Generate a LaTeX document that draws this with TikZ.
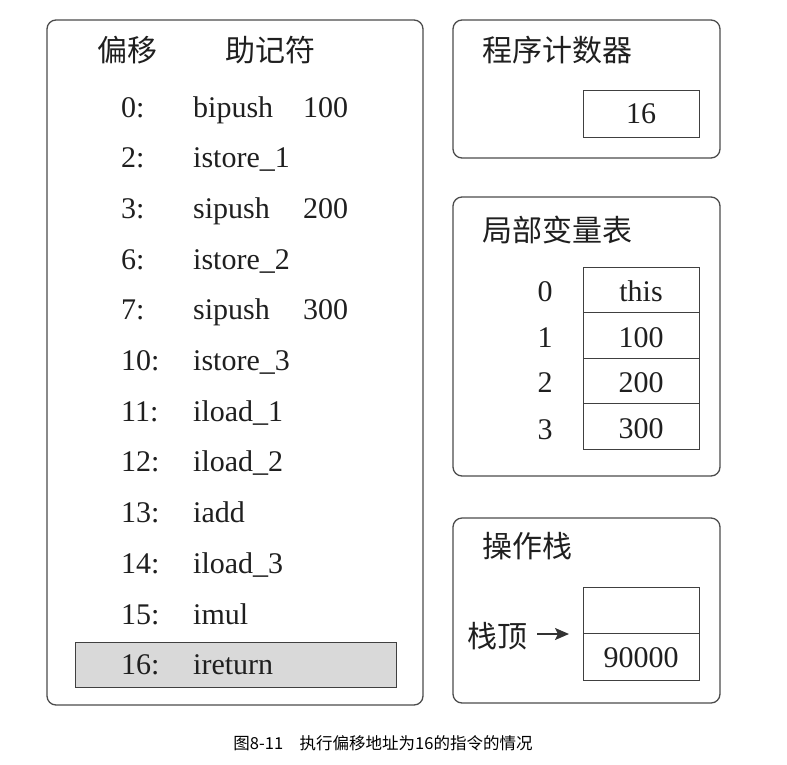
\documentclass[tikz,border=0pt]{standalone}
\usepackage{fontspec}
\setmainfont{Liberation Serif}
\newfontfamily\cjk{Noto Sans CJK SC}
\usetikzlibrary{arrows.meta}
\begin{document}
\begin{tikzpicture}[x=1pt,y=-1pt,
  panel/.style={draw=black!70, line width=1.3pt, rounded corners=9pt},
  cell/.style={draw=black!75, line width=1pt},
  big/.style={font=\fontsize{30}{30}\selectfont, text=black!88, inner sep=0pt},
  rowt/.style={big, anchor=base west},
  title/.style={font=\cjk\fontsize{30}{30}\selectfont, text=black!88, inner sep=0pt},
]
\useasboundingbox (0,0) rectangle (787,764);

% left panel
\node[panel, minimum width=376pt, minimum height=685pt] (codepanel) at (235,362.5) {};
\node[draw=black!75, line width=1pt, fill=black!15, minimum width=321pt, minimum height=45pt, inner sep=0pt] (hl) at (235.5,664.5) {};
\node[title] (hoff) at (127,50) {偏移};
\node[title] (hmn) at (270,50) {助记符};

\foreach \i/\off/\mn/\arg in {0/0:/bipush/100, 1/2:/istore\_1/, 2/3:/sipush/200, 3/6:/istore\_2/, 4/7:/sipush/300, 5/10:/istore\_3/, 6/11:/iload\_1/, 7/12:/iload\_2/, 8/13:/iadd/, 9/14:/iload\_3/, 10/15:/imul/, 11/16:/ireturn/}{
  \node[rowt] (off\i) at (121,{117+50.7*\i}) {\off};
  \node[rowt] (mn\i) at (193,{117+50.7*\i}) {\mn};
  \node[rowt] (arg\i) at (303,{117+50.7*\i}) {\arg};
}

% program counter
\node[panel, minimum width=267pt, minimum height=138pt] (pcpanel) at (586.5,89) {};
\node[title, anchor=west] (pctitle) at (482,50) {程序计数器};
\node[cell, minimum width=116pt, minimum height=47pt, inner sep=0pt] (pc) at (641,113.5) {};
\node[big] (pcval) at (pc) {16};

% local variable table
\node[panel, minimum width=267pt, minimum height=279pt] (lvpanel) at (586.5,336.5) {};
\node[title, anchor=west] (lvtitle) at (482,229.5) {局部变量表};
\node[cell, minimum width=116pt, minimum height=45pt, inner sep=0pt] (lv0) at (641,289.5) {};
\node[cell, minimum width=116pt, minimum height=46pt, inner sep=0pt] (lv1) at (641,335.5) {};
\node[cell, minimum width=116pt, minimum height=45pt, inner sep=0pt] (lv2) at (641,381) {};
\node[cell, minimum width=116pt, minimum height=46pt, inner sep=0pt] (lv3) at (641,426.5) {};
\node[big] (lv0t) at (641,291) {this};
\node[big] (lv1t) at (641,338) {100};
\node[big] (lv2t) at (641,383) {200};
\node[big] (lv3t) at (641,429) {300};
\node[big] (ix0) at (545,292) {0};
\node[big] (ix1) at (545,338) {1};
\node[big] (ix2) at (545,383) {2};
\node[big] (ix3) at (545,430) {3};

% operand stack
\node[panel, minimum width=267pt, minimum height=185pt] (stpanel) at (586.5,610.5) {};
\node[title, anchor=west] (sttitle) at (482,546) {操作栈};
\node[cell, minimum width=116pt, minimum height=46pt, inner sep=0pt] (st0) at (641,610) {};
\node[cell, minimum width=116pt, minimum height=47pt, inner sep=0pt] (st1) at (641,656.5) {};
\node[big] (st1t) at (641,658) {90000};
\node[title] (top) at (497,636) {栈顶};
\coordinate (arrend) at (569,634);
\draw[line width=1.6pt, black!80, -{Stealth[length=14pt,width=12pt,inset=3pt]}] (top.east)+(10,-2) -- (arrend);

% caption
\node[font=\cjk\fontsize{16.5}{16.5}\selectfont, inner sep=0pt] (cap) at (383,743) {图8-11\hspace{1em}执行偏移地址为16的指令的情况};
\end{tikzpicture}
\end{document}
